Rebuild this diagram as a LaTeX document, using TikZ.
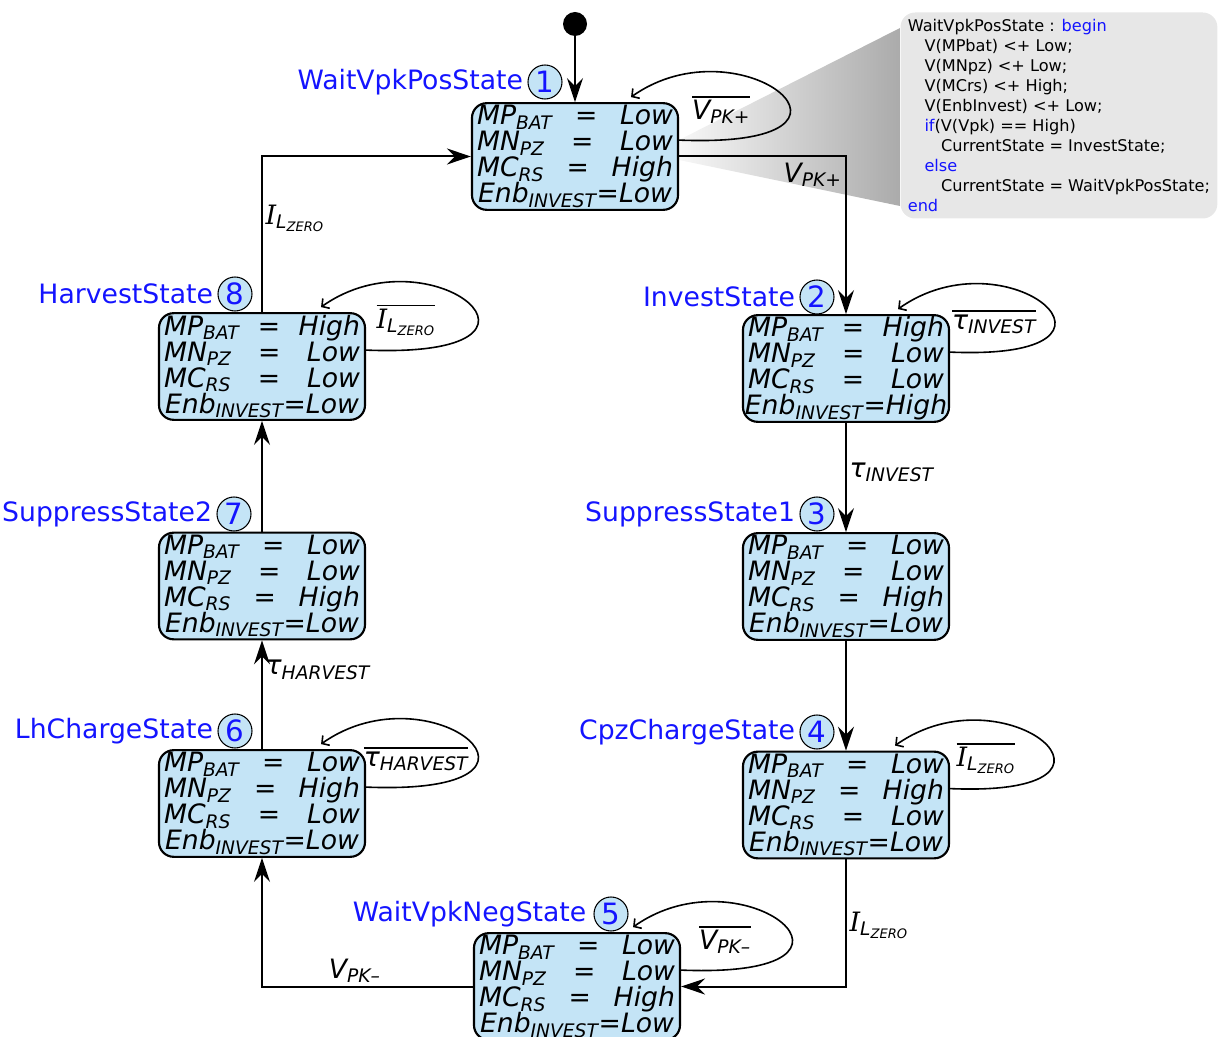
\documentclass[tikz,border=0pt]{standalone}
\usepackage{fontspec}
\setmainfont{DejaVu Sans}
\newfontfamily\serifit{DejaVu Serif}
\usetikzlibrary{arrows.meta,positioning,calc}

\definecolor{stfill}{RGB}{196,228,246}
\definecolor{codegray}{RGB}{231,231,231}
\definecolor{kwblue}{RGB}{20,20,255}

% one line of a state box
\newcommand{\strow}[2]{\hbox to 147pt{#1\hfill=\hfill #2}}
\newcommand{\stbody}[4]{\strow{MP\textsubscript{BAT}}{#1}\\\strow{MN\textsubscript{PZ}}{#2}\\\strow{MC\textsubscript{RS}}{#3}\\\hbox{Enb\textsubscript{INVEST}=#4}}
\newcommand{\negl}[1]{\vbox{\hrule height 1.1pt\kern 2pt\hbox{#1}}}
\newcommand{\ilz}{{\serifit\itshape I}\textsubscript{L\textsubscript{ZERO}}}

\tikzset{every picture/.style={line width=0.75pt}}

\begin{document}
\begin{tikzpicture}[x=0.75pt,y=0.75pt,yscale=-1,
  statebox/.style={draw, line width=1.6pt, rounded corners=11pt, fill=stfill,
    minimum width=154.5pt, minimum height=80pt, inner sep=0pt, align=center,
    font=\fontsize{20}{19.5}\selectfont\itshape},
  numcirc/.style={circle, draw, line width=0.8pt, fill=stfill, text=kwblue,
    minimum size=25.5pt, inner sep=0pt, font=\fontsize{22}{24}\selectfont},
  namelbl/.style={text=kwblue, inner sep=1pt, font=\fontsize{20}{24}\selectfont},
  elbl/.style={inner sep=2pt, font=\fontsize{20}{22}\selectfont\itshape},
  trans/.style={line width=1.5pt, -{Stealth[length=18pt,width=12pt,inset=6pt]}},
  selfloop/.style={line width=1.2pt, -{Straight Barb[length=4pt,width=9pt]}},
  codebox/.style={fill=codegray, rounded corners=11pt, align=left,
    minimum height=154.5pt, inner xsep=5.5pt, inner ysep=5pt,
    font=\fontsize{12.1}{15}\selectfont}]
\useasboundingbox (0,0) rectangle (1232,1037);

% shaded wedge to the code callout
\shade[left color=black!3, right color=black!33] (679,140) -- (900,28) -- (900,206) -- (679,160) -- cycle;

% Text Node
\node[codebox, anchor=north west] (code) at (900,12) {WaitVpkPosState : \textcolor{kwblue}{begin}\\
\hspace*{12.5pt}V(MPbat) <+ Low;\\
\hspace*{12.5pt}V(MNpz) <+ Low;\\
\hspace*{12.5pt}V(MCrs) <+ High;\\
\hspace*{12.5pt}V(EnbInvest) <+ Low;\\
\hspace*{12.5pt}\textcolor{kwblue}{if}(V(Vpk) == High)\\
\hspace*{25pt}CurrentState = InvestState;\\
\hspace*{12.5pt}\textcolor{kwblue}{else}\\
\hspace*{25pt}CurrentState = WaitVpkPosState;\\
\textcolor{kwblue}{end}};

% initial point
\node[circle, fill=black, minimum size=18pt, inner sep=0pt] (init) at (575,24) {};

% States
\node[statebox] (s1) at (575,156.5) {\stbody{Low}{Low}{High}{Low}};
\node[statebox] (s2) at (846,368.5) {\stbody{High}{Low}{Low}{High}};
\node[statebox] (s3) at (846,586.5) {\stbody{Low}{Low}{High}{Low}};
\node[statebox] (s4) at (846,805) {\stbody{Low}{High}{Low}{Low}};
\node[statebox] (s5) at (577,986.5) {\stbody{Low}{Low}{High}{Low}};
\node[statebox] (s6) at (262,803.5) {\stbody{Low}{High}{Low}{Low}};
\node[statebox] (s7) at (262,586) {\stbody{Low}{Low}{High}{Low}};
\node[statebox] (s8) at (262,366.5) {\stbody{High}{Low}{Low}{Low}};

% state numbers and names
\node[numcirc] (c1) at (545,82) {1};
\node[namelbl, left=2pt of c1] (n1) {WaitVpkPosState};
\node[numcirc] (c2) at (817,297) {2};
\node[namelbl, left=2pt of c2] (n2) {InvestState};
\node[numcirc] (c3) at (817,514) {3};
\node[namelbl, left=2pt of c3] (n3) {SuppressState1};
\node[numcirc] (c4) at (817,732) {4};
\node[namelbl, left=2pt of c4] (n4) {CpzChargeState};
\node[numcirc] (c5) at (611,914) {5};
\node[namelbl, left=4pt of c5] (n5) {WaitVpkNegState};
\node[numcirc] (c6) at (235,731) {6};
\node[namelbl, left=2pt of c6] (n6) {LhChargeState};
\node[numcirc] (c7) at (234,514) {7};
\node[namelbl, left=2pt of c7] (n7) {SuppressState2};
\node[numcirc] (c8) at (235,294) {8};
\node[namelbl, left=2pt of c8] (n8) {HarvestState};

% Transitions
\draw[trans] (init) -- (s1);
\draw[trans] (s1.east) -| node[elbl, pos=0.4, below=2pt] {V\textsubscript{PK+}} (s2.north);
\draw[trans] (s2) -- node[elbl, pos=0.45, right] {τ\textsubscript{INVEST}} (s3);
\draw[trans] (s3) -- (s4);
\draw[trans] (s4.south) |- node[elbl, pos=0.26, right] {\ilz} (s5.east);
\draw[trans] (s5.west) -| node[elbl, pos=0.28, above] {V\textsubscript{PK\textendash}} (s6.south);
\draw[trans] (s6) -- node[elbl, pos=0.73, right] {τ\textsubscript{HARVEST}} (s7);
\draw[trans] (s7) -- (s8);
\draw[trans] (s8.north) |- node[elbl, pos=0.3, right] {\ilz} (s1.west);

% Self loops
\draw[selfloop] ($(s1.north east)+(0,38)$) .. controls +(222,9) and +(110,-78) .. ($(s1.north east)+(-48,-5)$);
\node[elbl] (l1) at ($(s1.north east)+(42,8)$) {\negl{V\textsubscript{PK+}}};
\draw[selfloop] ($(s2.north east)+(0,38)$) .. controls +(210,9) and +(110,-78) .. ($(s2.north east)+(-52,-5)$);
\node[elbl] (l2) at ($(s2.north east)+(44,8)$) {\negl{τ\textsubscript{INVEST}}};
\draw[selfloop] ($(s4.north east)+(0,38)$) .. controls +(210,9) and +(110,-78) .. ($(s4.north east)+(-55,-5)$);
\node[elbl] (l4) at ($(s4.north east)+(36,8)$) {\negl{\ilz}};
\draw[selfloop] ($(s5.north east)+(0,38)$) .. controls +(222,9) and +(110,-78) .. ($(s5.north east)+(-48,-5)$);
\node[elbl] (l5) at ($(s5.north east)+(44,8)$) {\negl{V\textsubscript{PK\textendash}}};
\draw[selfloop] ($(s6.north east)+(0,38)$) .. controls +(222,9) and +(110,-78) .. ($(s6.north east)+(-45,-5)$);
\node[elbl] (l6) at ($(s6.north east)+(50,10)$) {\negl{τ\textsubscript{HARVEST}}};
\draw[selfloop] ($(s8.north east)+(0,38)$) .. controls +(222,9) and +(110,-78) .. ($(s8.north east)+(-45,-5)$);
\node[elbl] (l8) at ($(s8.north east)+(40,8)$) {\negl{\ilz}};

\end{tikzpicture}
\end{document}
